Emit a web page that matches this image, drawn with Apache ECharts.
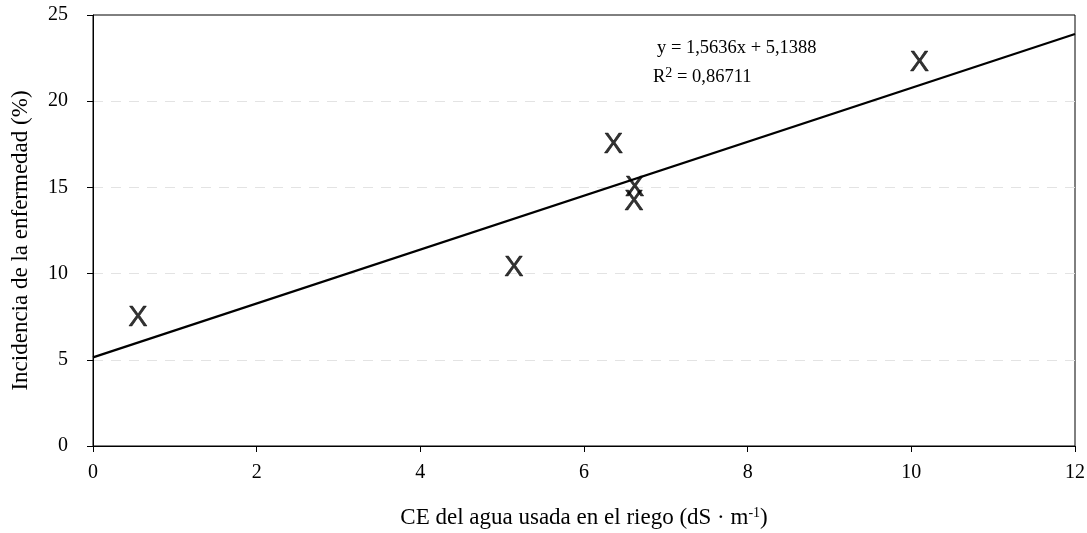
<!DOCTYPE html>
<html>
<head>
<meta charset="utf-8">
<script src="https://cdn.jsdelivr.net/npm/echarts@6/dist/echarts.min.js"></script>
<style>
  html, body { margin: 0; padding: 0; background: #fff; }
  #chart { width: 1087px; height: 533px; }
</style>
</head>
<body>
<div id="chart"></div>
<script>
// puntos observados (CE del agua, incidencia %)
var ceValues = [0.55, 5.145, 6.36, 6.62, 6.61, 10.10];
var incidence = [7.4, 10.3, 17.46, 14.97, 14.15, 22.24];

// recta de regresion y = 1,5636x + 5,1388
var trendX = [0, 12];
var trendY = [5.1388, 23.902];

var xTicks = [0, 2, 4, 6, 8, 10, 12];
var yTicks = [0, 5, 10, 15, 20, 25];

var serif = '"Liberation Serif", "Times New Roman", serif';

var myChart = echarts.init(document.getElementById('chart'));

var points = ceValues.map(function (v, i) { return [v, incidence[i]]; });
var line = trendX.map(function (v, i) { return [v, trendY[i]]; });

var option = {
    animation: false,
    grid: {
        left: 93,
        right: 12,
        top: 15,
        bottom: 87,
        outerBoundsMode: 'none',
        show: true,
        borderColor: '#000',
        borderWidth: 1
    },
    xAxis: {
        type: 'value',
        min: xTicks[0],
        max: xTicks[xTicks.length - 1],
        interval: 2,
        name: '{t|CE del agua usada en el riego (dS · m}{s|-1}{t|)}',
        nameLocation: 'middle',
        nameGap: 60,
        nameTextStyle: {
            rich: {
                t: { fontFamily: serif, fontSize: 23, color: '#000' },
                s: { fontFamily: serif, fontSize: 14, color: '#000', verticalAlign: 'top', padding: [0, 0, 10, 0] }
            }
        },
        axisLine: { lineStyle: { color: '#000', width: 1 } },
        axisTick: { show: true, length: 6, lineStyle: { color: '#000' } },
        axisLabel: { color: '#000', fontFamily: serif, fontSize: 20, margin: 17 },
        splitLine: { show: false }
    },
    yAxis: {
        type: 'value',
        min: yTicks[0],
        max: yTicks[yTicks.length - 1],
        interval: 5,
        name: 'Incidencia de la enfermedad (%)',
        nameLocation: 'middle',
        nameGap: 61,
        nameTextStyle: { fontFamily: serif, fontSize: 23, color: '#000', padding: [0, 20, 0, 0] },
        axisLine: { show: true, lineStyle: { color: '#000', width: 1 } },
        axisTick: { show: true, length: 6, lineStyle: { color: '#000' } },
        axisLabel: { color: '#000', fontFamily: serif, fontSize: 20, margin: 25 },
        splitLine: {
            show: true,
            showMinLine: false,
            showMaxLine: false,
            lineStyle: { color: '#e3e3e3', type: [10, 8], width: 1 }
        }
    },
    graphic: [
        {
            type: 'text',
            left: 657,
            top: 39,
            style: {
                text: 'y = 1,5636x + 5,1388',
                font: '18.5px ' + serif,
                fill: '#000'
            }
        },
        {
            type: 'text',
            left: 653,
            top: 66,
            style: {
                text: '{t|R}{s|2}{t| = 0,86711}',
                fill: '#000',
                rich: {
                    t: { fontFamily: serif, fontSize: 18.5, color: '#000' },
                    s: { fontFamily: serif, fontSize: 14, color: '#000', verticalAlign: 'top', padding: [0, 0, 8, 0] }
                }
            }
        }
    ],
    series: [
        {
            name: 'tendencia',
            type: 'line',
            data: line,
            symbol: 'none',
            lineStyle: { color: '#000', width: 2.2 },
            z: 3
        },
        {
            name: 'observado',
            type: 'scatter',
            data: points,
            symbolSize: 1,
            itemStyle: { color: 'rgba(0,0,0,0)' },
            label: {
                show: true,
                position: 'inside',
                formatter: 'X',
                fontFamily: '"Liberation Sans", Arial, sans-serif',
                fontSize: 29,
                color: '#000',
                textBorderColor: '#000',
                textBorderWidth: 0.5
            },
            z: 4
        }
    ]
};

myChart.setOption(option);
</script>
</body>
</html>
